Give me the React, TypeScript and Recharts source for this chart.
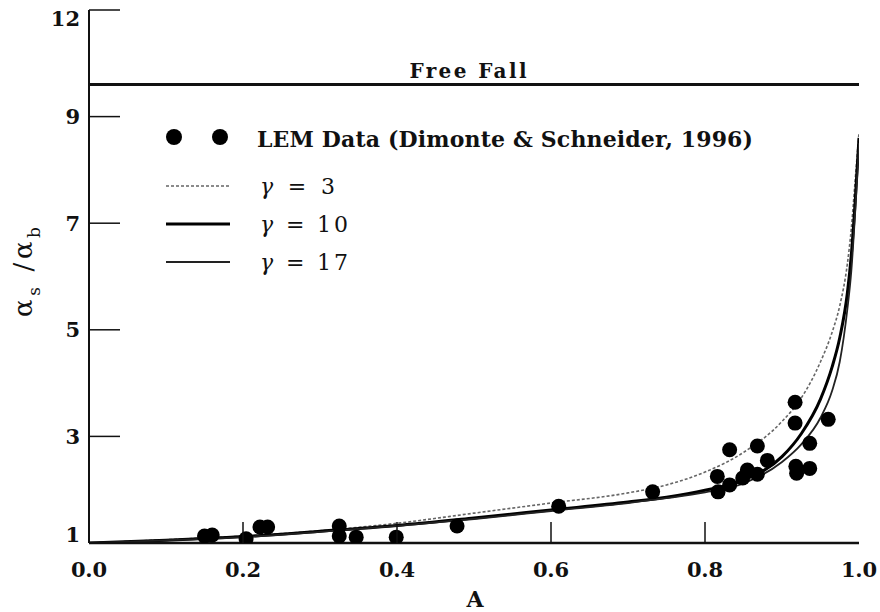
import React from "react";
import {
  ComposedChart,
  Line,
  Scatter,
  XAxis,
  YAxis,
  ReferenceLine
} from "recharts";

// Atwood number grid for the model curves
const atwood = [0, 0.1, 0.2, 0.3, 0.4, 0.5, 0.6, 0.7, 0.75, 0.8, 0.85, 0.9, 0.925, 0.95, 0.965, 0.975, 0.985, 0.99, 0.995, 1.0];
const gamma3 = [1.0, 1.06, 1.13, 1.23, 1.37, 1.56, 1.75, 1.94, 2.09, 2.33, 2.7, 3.28, 3.72, 4.4, 4.95, 5.45, 6.25, 6.9, 7.8, 8.7];
const gamma10 = [1.0, 1.05, 1.12, 1.22, 1.33, 1.47, 1.62, 1.77, 1.86, 1.99, 2.18, 2.62, 3.05, 3.7, 4.3, 4.85, 5.7, 6.4, 7.4, 8.6];
const gamma17 = [1.0, 1.05, 1.11, 1.21, 1.32, 1.45, 1.6, 1.75, 1.84, 1.95, 2.12, 2.52, 2.85, 3.35, 3.85, 4.4, 5.4, 6.1, 7.2, 8.5];

// LEM data points (Dimonte & Schneider, 1996)
const lemA = [0.15, 0.16, 0.204, 0.222, 0.232, 0.325, 0.325, 0.347, 0.399, 0.478, 0.61, 0.732, 0.816, 0.817, 0.832, 0.832, 0.849, 0.855, 0.868, 0.868, 0.881, 0.917, 0.917, 0.918, 0.919, 0.936, 0.936, 0.96];
const lemRatio = [1.13, 1.15, 1.08, 1.3, 1.3, 1.32, 1.13, 1.11, 1.11, 1.32, 1.69, 1.96, 2.25, 1.96, 2.75, 2.09, 2.22, 2.37, 2.82, 2.29, 2.55, 3.64, 3.25, 2.44, 2.31, 2.87, 2.4, 3.32];

const freeFall = 9.6;
const xTicks = [0, 0.2, 0.4, 0.6, 0.8, 1.0];
const yTicks = [1, 3, 5, 7, 9, 11];
const yTickLabels = ["1", "3", "5", "7", "9", "12"];

const toRows = (ys: number[]) => atwood.map((a, i) => ({ a, v: ys[i] }));
const g3Rows = toRows(gamma3);
const g10Rows = toRows(gamma10);
const g17Rows = toRows(gamma17);
const lemRows = lemA.map((a, i) => ({ a, v: lemRatio[i] }));

const font = "DejaVu Serif, Liberation Serif, serif";
const ink = "#111";

function LeftTick(props: any) {
  const { x, y, payload } = props;
  const i = yTicks.indexOf(payload.value);
  const shift = i === yTicks.length - 1 ? 9 : i === 0 ? -8 : 0;
  return (
    <g>
      <line x1={x} x2={x + 31} y1={y} y2={y} stroke={ink} strokeWidth={1.5} />
      <text x={x - 9} y={y + shift} dy="0.35em" textAnchor="end" fontFamily={font} fontWeight="bold" fontSize={21} fill={ink}>
        {yTickLabels[i]}
      </text>
    </g>
  );
}

function RightTick(props: any) {
  const { x, y } = props;
  return <line x1={x} x2={x - 31} y1={y} y2={y} stroke={ink} strokeWidth={1.5} />;
}

function BottomTick(props: any) {
  const { x, y, payload } = props;
  const edge = payload.value === 0 || payload.value === 1;
  return (
    <g>
      {!edge && <line x1={x} x2={x} y1={y} y2={y - 21} stroke={ink} strokeWidth={1.5} />}
      <text x={x} y={y + 34} textAnchor="middle" fontFamily={font} fontWeight="bold" fontSize={21} fill={ink} textLength={36} lengthAdjust="spacing">
        {payload.value.toFixed(1)}
      </text>
    </g>
  );
}

function TopTick(props: any) {
  const { x, y, payload } = props;
  if (payload.value === 0 || payload.value === 1) return <g />;
  return <line x1={x} x2={x} y1={y} y2={y + 21} stroke={ink} strokeWidth={1.5} />;
}

const dot = (props: any) => <circle cx={props.cx} cy={props.cy} r={7.5} fill="#000" />;

export default function App() {
  return (
    <div style={{ position: "absolute", left: 0, top: 0, width: 880, height: 612, background: "#fff" }}>
      <ComposedChart width={880} height={612} margin={{ top: 10, right: 21, bottom: 0, left: 0 }}>
        <XAxis
          xAxisId={0}
          dataKey="a"
          type="number"
          domain={[0, 1]}
          ticks={xTicks}
          allowDataOverflow
          height={69}
          tickSize={0}
          tickMargin={0}
          tickLine={false}
          axisLine={{ stroke: ink, strokeWidth: 2.5 }}
          tick={<BottomTick />}
        />
        <XAxis
          xAxisId="top"
          orientation="top"
          type="number"
          domain={[0, 1]}
          ticks={xTicks}
          allowDataOverflow
          height={0}
          tickSize={0}
          tickMargin={0}
          tickLine={false}
          axisLine={{ stroke: ink, strokeWidth: 2 }}
          tick={<TopTick />}
        />
        <YAxis
          yAxisId={0}
          dataKey="v"
          type="number"
          domain={[1, 11]}
          ticks={yTicks}
          allowDataOverflow
          width={89}
          tickSize={0}
          tickMargin={0}
          tickLine={false}
          axisLine={{ stroke: ink, strokeWidth: 2 }}
          tick={<LeftTick />}
        />
        <YAxis
          yAxisId="right"
          orientation="right"
          type="number"
          domain={[1, 11]}
          ticks={yTicks}
          allowDataOverflow
          width={0}
          tickSize={0}
          tickMargin={0}
          tickLine={false}
          axisLine={{ stroke: ink, strokeWidth: 2 }}
          tick={<RightTick />}
        />
        <ReferenceLine
          y={freeFall}
          stroke={ink}
          strokeWidth={3}
          label={({ viewBox }: any) => (
            <text
              x={viewBox.x + viewBox.width / 2 - 6}
              y={viewBox.y - 7}
              textAnchor="middle"
              fontFamily={font}
              fontWeight="bold"
              fontSize={20}
              fill={ink}
              textLength={117}
              lengthAdjust="spacing"
            >
              Free Fall
            </text>
          )}
        />
        <Line data={g3Rows} dataKey="v" type="monotone" stroke="#666" strokeWidth={1.6} strokeDasharray="3 2" dot={false} isAnimationActive={false} />
        <Line data={g10Rows} dataKey="v" type="monotone" stroke="#000" strokeWidth={3} dot={false} isAnimationActive={false} />
        <Line data={g17Rows} dataKey="v" type="monotone" stroke="#222" strokeWidth={1.8} dot={false} isAnimationActive={false} />
        <Scatter data={lemRows} dataKey="v" shape={dot} isAnimationActive={false} />

        <g>
          <circle cx={174} cy={137} r={8} fill="#000" />
          <circle cx={220} cy={137} r={8} fill="#000" />
          <text x={257} y={147} fontFamily={font} fontWeight="bold" fontSize={22} fill={ink} textLength={496} lengthAdjust="spacing">
            LEM Data (Dimonte &amp; Schneider, 1996)
          </text>
          <line x1={166} x2={230} y1={186} y2={186} stroke="#666" strokeWidth={1.6} strokeDasharray="3 2" />
          <text x={260} y={194} fontFamily={font} fontSize={22} fill={ink} textLength={75} lengthAdjust="spacing">
            <tspan fontStyle="italic">γ</tspan> = 3
          </text>
          <line x1={166} x2={230} y1={224} y2={224} stroke="#000" strokeWidth={3} />
          <text x={260} y={232} fontFamily={font} fontSize={22} fill={ink} textLength={88} lengthAdjust="spacing">
            <tspan fontStyle="italic">γ</tspan> = 10
          </text>
          <line x1={166} x2={230} y1={262} y2={262} stroke="#222" strokeWidth={1.8} />
          <text x={260} y={270} fontFamily={font} fontSize={22} fill={ink} textLength={88} lengthAdjust="spacing">
            <tspan fontStyle="italic">γ</tspan> = 17
          </text>
        </g>

        <text x={475} y={607} textAnchor="middle" fontFamily={font} fontWeight="bold" fontSize={22} fill={ink}>
          A
        </text>
        <text
          transform="translate(32, 272) rotate(-90)"
          textAnchor="middle"
          fontFamily={font}
          fontSize={26}
          fill={ink}
          textLength={90}
          lengthAdjust="spacing"
        >
          α<tspan fontSize={17} dy={8}>s</tspan>
          <tspan dy={-8}> /α</tspan>
          <tspan fontSize={17} dy={8}>b</tspan>
        </text>
      </ComposedChart>
    </div>
  );
}
